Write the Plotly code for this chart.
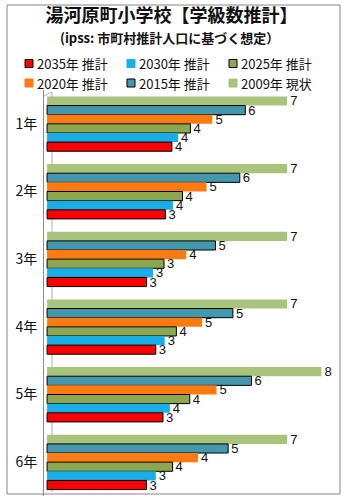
import plotly.graph_objects as go

categories = ["1年", "2年", "3年", "4年", "5年", "6年"]
series_names = ["2009年 現状", "2015年 推計", "2020年 推計", "2025年 推計", "2030年 推計", "2035年 推計"]
v2009 = [7.0, 7.0, 7.0, 7.0, 8.0, 7.0]
v2015 = [5.78, 5.62, 4.91, 5.42, 5.96, 5.28]
v2020 = [4.82, 4.65, 4.06, 4.52, 4.94, 4.40]
v2025 = [4.18, 3.95, 3.41, 3.77, 4.16, 3.66]
v2030 = [3.82, 3.67, 3.09, 3.43, 3.58, 3.17]
v2035 = [3.64, 3.45, 2.90, 3.17, 3.38, 2.90]
values = [v2009, v2015, v2020, v2025, v2030, v2035]

colors = ["#A9C27C", "#4398AE", "#FF7A10", "#8DA751", "#1AAEE6", "#FF0000"]
outlined = [False, True, False, True, False, True]

W, H = 350, 500
L, R, T, B = 44, 8, 90, 4

fig = go.Figure()
for name, vals, col, ol in zip(series_names, values, colors, outlined):
    fig.add_trace(go.Bar(
        y=categories, x=vals, name=name, orientation="h",
        marker=dict(color=col, line=dict(color="#000000", width=1 if ol else 0)),
        text=vals, texttemplate="%{x:.0f}", textposition="outside",
        constraintext="none",
        textfont=dict(size=13, color="#111111", family="Liberation Sans, Arial"),
        cliponaxis=False, showlegend=False,
    ))

pw = W - L - R
ph = H - T - B
def px_x(x):
    return (x - L) / pw
def px_y(y):
    return (H - B - y) / ph

shapes = [
    dict(type="rect", xref="paper", yref="paper",
         x0=px_x(7), x1=px_x(340), y0=px_y(494), y1=px_y(5),
         line=dict(color="#878787", width=1), fillcolor="rgba(0,0,0,0)", layer="below"),
    dict(type="line", xref="paper", yref="paper",
         x0=px_x(52), x1=px_x(52), y0=px_y(492), y1=px_y(92),
         line=dict(color="#B0B0B0", width=1), layer="below"),
    dict(type="line", xref="paper", yref="paper",
         x0=px_x(44), x1=px_x(52), y0=px_y(96), y1=px_y(92),
         line=dict(color="#B0B0B0", width=1), layer="below"),
]
annotations = [
    dict(text="<b>(ipss: 市町村推計人口に基づく想定）</b>",
         xref="paper", yref="paper", x=px_x(169), y=px_y(37.5),
         xanchor="center", yanchor="middle", showarrow=False, borderpad=0,
         font=dict(size=13, color="#111111")),
]

# custom legend: 3 columns x 2 rows, reversed series order
leg_cols = [25, 127, 229]
leg_rows = [63.5, 83]
order = list(range(len(series_names)))[::-1]
for i, k in enumerate(order):
    r, c = divmod(i, 3)
    sx, sy = leg_cols[c], leg_rows[r]
    shapes.append(dict(
        type="rect", xref="paper", yref="paper",
        x0=px_x(sx), x1=px_x(sx + 8), y0=px_y(sy + 4), y1=px_y(sy - 4),
        fillcolor=colors[k],
        line=dict(color="#000000" if outlined[k] else colors[k], width=1),
    ))
    annotations.append(dict(
        text=series_names[k], xref="paper", yref="paper",
        x=px_x(sx + 11), y=px_y(sy), xanchor="left", yanchor="middle",
        showarrow=False, borderpad=0, font=dict(size=13, color="#111111"),
    ))

fig.update_layout(
    width=W, height=H,
    margin=dict(l=L, r=R, t=T, b=B, autoexpand=False),
    paper_bgcolor="white", plot_bgcolor="white",
    barmode="group", bargap=0.19, bargroupgap=0,
    font=dict(family="Noto Sans CJK JP", color="#111111"),
    title=dict(
        text="<b>湯河原町小学校【学級数推計】</b>",
        font=dict(size=18, color="#111111"),
        x=0.49, xanchor="center", xref="container",
        y=1 - 16 / H, yanchor="middle", yref="container",
    ),
    annotations=annotations,
    shapes=shapes,
    showlegend=False,
    xaxis=dict(range=[-0.09, 8.6], showticklabels=False, showgrid=False,
               zeroline=False, showline=False, ticks=""),
    yaxis=dict(autorange="reversed", showline=True, linecolor="#8C8C8C", linewidth=1,
               ticks="", ticklabelstandoff=3, tickfont=dict(size=14, color="#111111"),
               showgrid=False),
)

fig.write_html("out.html")
